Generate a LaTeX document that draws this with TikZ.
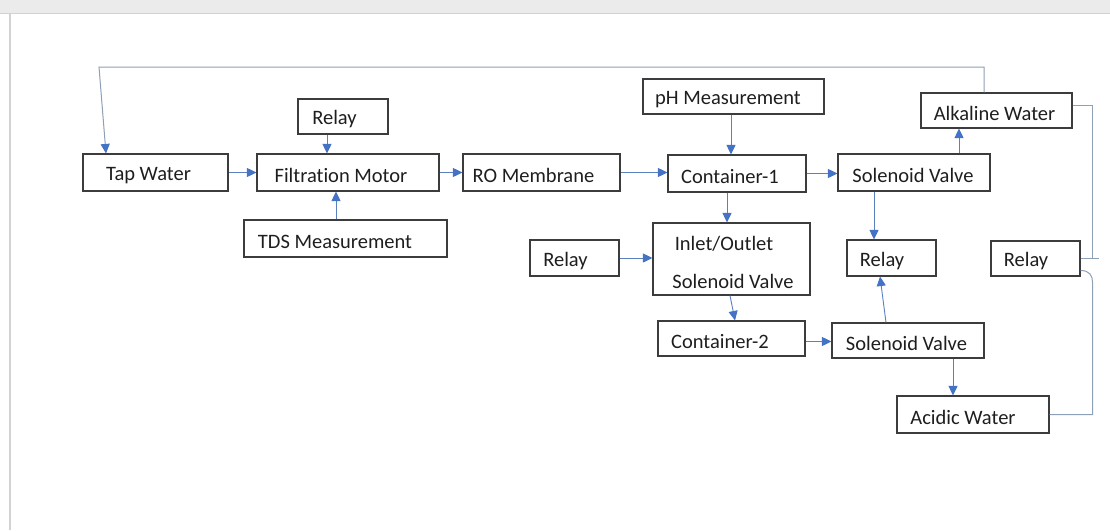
\documentclass[tikz,border=0pt]{standalone}
\usepackage{fontspec}
\setmainfont{Carlito}[Ligatures=CommonOff]
\usetikzlibrary{arrows.meta}
\definecolor{boxline}{HTML}{3C3C3C}
\definecolor{textcol}{HTML}{1E1E1E}
\definecolor{flowline}{HTML}{5B80BD}
\definecolor{tipblue}{HTML}{4472C4}
\definecolor{loopline}{HTML}{8EA0B6}
\definecolor{pageband}{HTML}{EBEBEB}
\definecolor{pageedge}{HTML}{D2D2D2}
\tikzset{
  box/.style={draw=boxline, line width=1.1pt, rectangle, inner sep=0pt},
  txt/.style={font=\fontsize{20.5}{24}\selectfont, text=textcol, inner sep=0pt},
  flow/.style={draw=flowline, line width=0.9pt,
    -{Triangle[length=9.5pt,width=9pt,color=tipblue]}},
  feedback/.style={draw=loopline, line width=1pt},
}
% \blk{name}{x}{y}{width}{height}{text}{text shift}
\newcommand{\blk}[7]{%
  \node[box, minimum width=#4, minimum height=#5,
        label={[txt,xshift=#7,yshift=-3pt]center:#6}] (#1) at (#2,#3) {};}
\begin{document}
\begin{tikzpicture}[x=1pt,y=-1pt]
\useasboundingbox (0,0) rectangle (1110,530);
% page frame
\fill[pageband] (0,0) rectangle (1110,13);
\draw[pageedge, line width=1pt] (0,13.5) -- (1110,13.5);
\draw[pageedge, line width=2pt] (10,14) -- (10,530);

% blocks
\blk{tap}{155.5}{172.5}{145pt}{37pt}{Tap Water}{-7pt}
\blk{fm}{348}{172.5}{182pt}{37pt}{Filtration Motor}{-7pt}
\blk{relayA}{343}{116.5}{90pt}{35pt}{Relay}{-8.5pt}
\blk{tds}{345.5}{238.5}{203pt}{37pt}{TDS Measurement}{-10.5pt}
\blk{ro}{541.5}{172.5}{157pt}{37pt}{RO Membrane}{-8pt}
\blk{ph}{733.5}{96.5}{181pt}{35pt}{pH Measurement}{-5.5pt}
\blk{cA}{737}{173.5}{138pt}{37pt}{Container-1}{-7pt}
\blk{svA}{914}{172.5}{152pt}{37pt}{Solenoid Valve}{-1pt}
\blk{alk}{996.5}{110.5}{151pt}{35pt}{Alkaline Water}{-2pt}
\node[box, minimum width=157pt, minimum height=72pt,
      label={[txt,xshift=-7.5pt,yshift=15pt]center:Inlet/Outlet},
      label={[txt,xshift=1.5pt,yshift=-22pt]center:Solenoid Valve}]
      (io) at (731.5,259) {};
\blk{relayB}{574.5}{258}{89pt}{36pt}{Relay}{-9pt}
\blk{relayC}{891.5}{258}{89pt}{36pt}{Relay}{-9.5pt}
\blk{relayD}{1035.5}{258.5}{89pt}{35pt}{Relay}{-9.5pt}
\blk{cB}{731.5}{338.5}{147pt}{35pt}{Container-2}{-11.5pt}
\blk{svB}{908}{340.5}{152pt}{35pt}{Solenoid Valve}{-1.5pt}
\blk{acid}{973}{414.5}{152pt}{37pt}{Acidic Water}{-10pt}

% main flow
\draw[flow] (tap.east) -- (fm.west);
\draw[flow] ([xshift=-16pt]relayA.south) -- ([xshift=-16pt]relayA.south |- fm.north);
\draw[flow] ([xshift=-9.5pt]tds.north) -- ([xshift=-9.5pt]tds.north |- fm.south);
\draw[flow] (fm.east) -- (ro.west);
\draw[flow] (ro.east) -- (ro.east -| cA.west);
\draw[flow] ([xshift=-2.5pt]ph.south) -- ([xshift=-2.5pt]ph.south |- cA.north);
\draw[flow] (cA.east) -- (cA.east -| svA.west);
\draw[flow] ([xshift=-10pt]cA.south) -- ([xshift=-10pt]cA.south |- io.north);
\draw[flow] (relayB.east) -- (relayB.east -| io.west);
\draw[flow] ([xshift=45pt]svA.north) -- ([xshift=45pt]svA.north |- alk.south);
\draw[flow] ([xshift=-40pt]svA.south) -- ([xshift=-40pt]svA.south |- relayC.north);
\draw[flow] ([xshift=-1.5pt]io.south) -- ([xshift=3.5pt]cB.north);
\draw[flow] ([yshift=-3pt]cB.east) -- ([yshift=-3pt]cB.east -| svB.west);
\draw[flow] ([xshift=-22pt]svB.north) -- ([xshift=-11.5pt]relayC.south);
\draw[flow] ([xshift=45pt]svB.south) -- ([xshift=45pt]svB.south |- acid.north);

% return line from the alkaline outlet to the tap
\coordinate (retcorner) at (99,67);
\draw[feedback, -{Triangle[length=9.5pt,width=9pt,color=tipblue]}]
  ([xshift=-12.5pt]alk.north) |- (retcorner) -- ([xshift=-49.5pt]tap.north);

% relay wiring on the right
\draw[feedback] ([yshift=5pt]alk.east) -| ([xshift=12pt]relayD.east);
\draw[feedback] (relayD.east) -- ++(18,0);
\draw[feedback] ([yshift=-12pt]relayD.east) .. controls +(9,0) and +(0,-7) ..
  ([xshift=12pt,yshift=-24pt]relayD.east) |- (acid.east);
\end{tikzpicture}
\end{document}
